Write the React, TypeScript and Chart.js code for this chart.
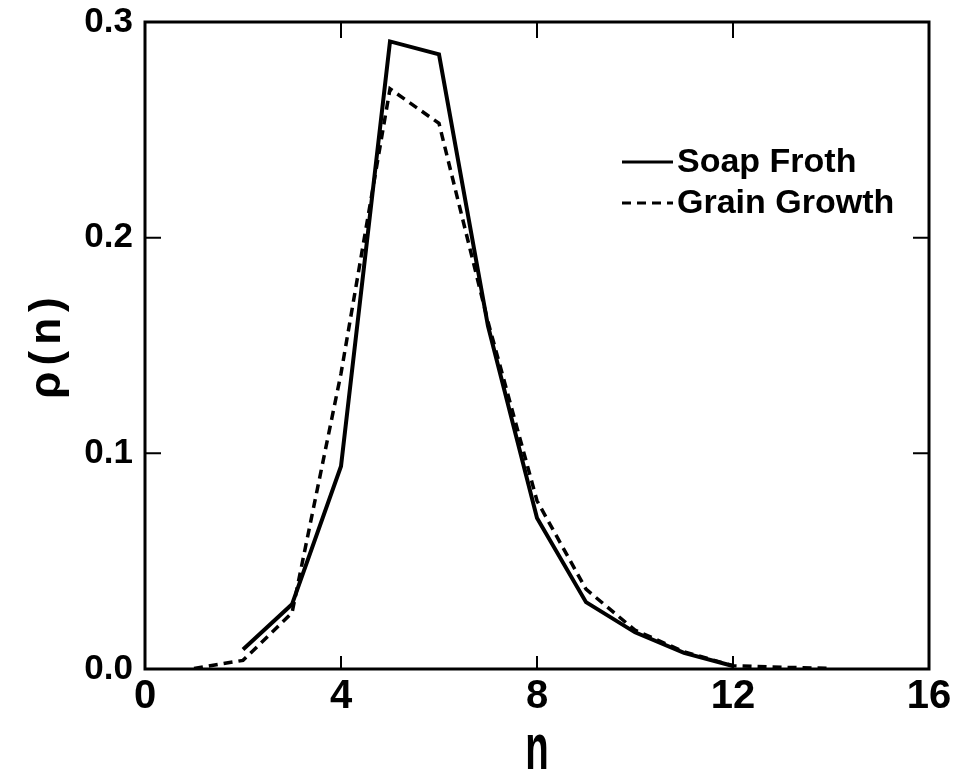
import React, { useEffect, useRef } from "react";
import { Chart, registerables } from "chart.js";

Chart.register(...registerables);

const soapN = [2, 3, 4, 5, 6, 7, 8, 9, 10, 11, 12];
const soapFroth = [0.009, 0.03, 0.094, 0.291, 0.285, 0.159, 0.07, 0.031, 0.017, 0.0075, 0.0014];
const grainN = [1, 2, 3, 4, 5, 6, 7, 8, 9, 10, 11, 12, 13, 14];
const grainGrowth = [0.0003, 0.004, 0.026, 0.137, 0.269, 0.253, 0.161, 0.078, 0.037, 0.018, 0.008, 0.0015, 0.0008, 0.0003];
const xTicks = [0, 4, 8, 12, 16];
const yTicks = [0, 0.1, 0.2, 0.3];
const seriesLabels = ["Soap Froth", "Grain Growth"];
const xTitle = "n";
const yTitle = "\u03C1(n)";

const SANS = "'Liberation Sans', Arial, Helvetica, sans-serif";

const framePlugin = {
  id: "frame",
  afterDraw(chart: any) {
    const ctx = chart.ctx;
    const { left, right, top, bottom } = chart.chartArea;
    const xs = chart.scales.x;
    const ys = chart.scales.y;
    ctx.save();
    ctx.strokeStyle = "#000";
    ctx.lineWidth = 3;
    ctx.strokeRect(left, top, right - left, bottom - top);
    ctx.lineWidth = 2;
    ctx.beginPath();
    xTicks.forEach((v) => {
      const px = xs.getPixelForValue(v);
      ctx.moveTo(px, bottom);
      ctx.lineTo(px, bottom - 13);
      ctx.moveTo(px, top);
      ctx.lineTo(px, top + 16);
    });
    yTicks.forEach((v) => {
      const py = ys.getPixelForValue(v);
      ctx.moveTo(left, py);
      ctx.lineTo(left + 16, py);
      ctx.moveTo(right, py);
      ctx.lineTo(right - 16, py);
    });
    ctx.stroke();

    // axis titles
    ctx.fillStyle = "#000";
    ctx.textAlign = "center";
    ctx.textBaseline = "alphabetic";
    ctx.save();
    ctx.translate(537, 769);
    ctx.scale(0.6, 1);
    ctx.font = `bold 64px ${SANS}`;
    ctx.fillText(xTitle, 0, 0);
    ctx.restore();

    ctx.save();
    ctx.translate(60, 345);
    ctx.rotate(-Math.PI / 2);
    ctx.font = `bold 44px ${SANS}`;
    try {
      (ctx as any).letterSpacing = "6px";
    } catch (e) {}
    ctx.fillText(yTitle, 0, 0);
    ctx.restore();

    // legend
    const lx0 = 622;
    const lx1 = 673;
    const rows = [162, 203];
    chart.data.datasets.forEach((ds: any, i: number) => {
      const y = rows[i];
      ctx.save();
      ctx.strokeStyle = "#000";
      ctx.lineWidth = 3;
      ctx.setLineDash(ds.borderDash || []);
      ctx.beginPath();
      ctx.moveTo(lx0, y);
      ctx.lineTo(lx1, y);
      ctx.stroke();
      ctx.restore();
      ctx.font = `bold 34px ${SANS}`;
      ctx.textAlign = "left";
      ctx.textBaseline = "middle";
      ctx.fillText(ds.label, lx1 + 4, y + 1);
    });
    ctx.restore();
  },
};

export default function App() {
  const ref = useRef<HTMLCanvasElement>(null);
  useEffect(() => {
    if (!ref.current) return;
    const chart = new Chart(ref.current, {
      type: "line",
      data: {
        datasets: [
          {
            label: seriesLabels[0],
            data: soapN.map((n, i) => ({ x: n, y: soapFroth[i] })),
            borderColor: "#000",
            borderWidth: 4,
            pointRadius: 0,
            tension: 0,
            fill: false,
          },
          {
            label: seriesLabels[1],
            data: grainN.map((n, i) => ({ x: n, y: grainGrowth[i] })),
            borderColor: "#000",
            borderWidth: 3.5,
            borderDash: [9, 6],
            pointRadius: 0,
            tension: 0,
            fill: false,
          },
        ],
      },
      options: {
        responsive: false,
        animation: false,
        layout: { autoPadding: false, padding: { top: 22, right: 24, left: 0, bottom: 0 } },
        plugins: { legend: { display: false }, tooltip: { enabled: false } },
        scales: {
          x: {
            type: "linear",
            min: 0,
            max: 16,
            afterFit: (s: any) => {
              s.height = 111;
              s.paddingLeft = 0;
              s.paddingRight = 0;
            },
            afterBuildTicks: (s: any) => {
              s.ticks = xTicks.map((v) => ({ value: v }));
            },
            grid: { display: false, drawTicks: false },
            border: { display: false },
            ticks: {
              padding: 4,
              color: "#000",
              font: { family: SANS, size: 40, weight: "bold" },
              maxRotation: 0,
            },
          },
          y: {
            type: "linear",
            min: 0,
            max: 0.3,
            afterFit: (s: any) => {
              s.width = 145;
              s.paddingTop = 0;
              s.paddingBottom = 0;
            },
            afterBuildTicks: (s: any) => {
              s.ticks = yTicks.map((v) => ({ value: v }));
            },
            grid: { display: false, drawTicks: false },
            border: { display: false },
            ticks: {
              padding: 12,
              color: "#000",
              font: { family: SANS, size: 35, weight: "bold" },
              callback: (v: any) => Number(v).toFixed(1),
            },
          },
        },
      },
      plugins: [framePlugin],
    });
    return () => chart.destroy();
  }, []);
  return (
    <div style={{ position: "absolute", left: 0, top: 0, width: 953, height: 780, background: "#fff" }}>
      <canvas ref={ref} width={953} height={780} style={{ display: "block" }} />
    </div>
  );
}
